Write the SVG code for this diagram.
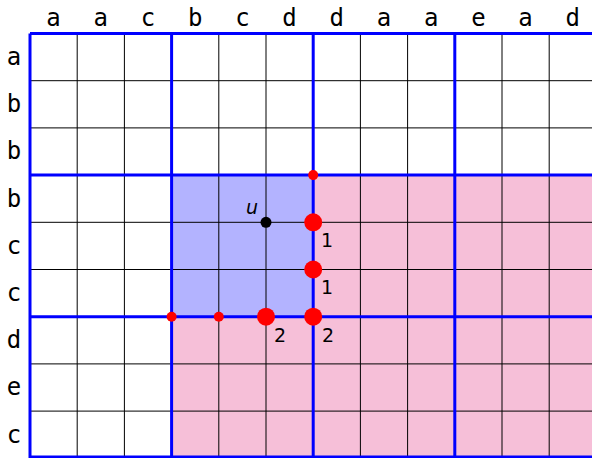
<svg xmlns="http://www.w3.org/2000/svg" width="592" height="458" viewBox="0 0 592 458">
<style>
.lbl{font-family:"DejaVu Sans Mono",monospace;font-size:24px;fill:#000;text-anchor:middle}
.num{font-family:"DejaVu Sans","Liberation Sans",sans-serif;font-size:19px;fill:#000;text-anchor:middle}
.thin{stroke:#000;stroke-width:1;fill:none}
.thick{stroke:#0000ff;stroke-width:3;fill:none}
.big{fill:#ff0000}
</style>
<rect width="592" height="458" fill="#fff"/>
<g id="regions">
<path d="M313.2 175.1H592V458H171.6V316.7H313.2Z" fill="#f6bfd8"/>
<rect x="171.6" y="175.1" width="141.6" height="141.6" fill="#b3b3ff"/>
</g>
<g id="grid" class="thin">
<path class="thin" d="M77.2 33.5V458M124.4 33.5V458M218.8 33.5V458M266 33.5V458M360.4 33.5V458M407.6 33.5V458M502 33.5V458M549.2 33.5V458M30 80.7H592M30 127.9H592M30 222.3H592M30 269.5H592M30 363.9H592M30 411.1H592"/>
<path class="thick" d="M30 33.5V458M171.6 33.5V458M313.2 33.5V458M454.8 33.5V458M30 33.5H592M30 175.1H592M30 316.7H592M30 457H592"/>
</g>
<g id="top-labels">
<text class="lbl" x="53.6" y="26">a</text>
<text class="lbl" x="100.8" y="26">a</text>
<text class="lbl" x="148" y="26">c</text>
<text class="lbl" x="195.2" y="26">b</text>
<text class="lbl" x="242.4" y="26">c</text>
<text class="lbl" x="289.6" y="26">d</text>
<text class="lbl" x="336.8" y="26">d</text>
<text class="lbl" x="384" y="26">a</text>
<text class="lbl" x="431.2" y="26">a</text>
<text class="lbl" x="478.4" y="26">e</text>
<text class="lbl" x="525.6" y="26">a</text>
<text class="lbl" x="572.8" y="26">d</text>
</g>
<g id="left-labels">
<text class="lbl" x="14" y="65">a</text>
<text class="lbl" x="14" y="112.2">b</text>
<text class="lbl" x="14" y="159.4">b</text>
<text class="lbl" x="14" y="206.6">b</text>
<text class="lbl" x="14" y="253.8">c</text>
<text class="lbl" x="14" y="301">c</text>
<text class="lbl" x="14" y="348.2">d</text>
<text class="lbl" x="14" y="395.4">e</text>
<text class="lbl" x="14" y="442.6">c</text>
</g>
<g id="points">
<circle cx="313.2" cy="175.1" r="5" class="big"/>
<circle cx="171.6" cy="316.7" r="5" class="big"/>
<circle cx="218.8" cy="316.7" r="5" class="big"/>
<circle cx="313.2" cy="222.3" r="9" class="big"/>
<circle cx="313.2" cy="269.5" r="9" class="big"/>
<circle cx="266" cy="316.7" r="9" class="big"/>
<circle cx="313.2" cy="316.7" r="9" class="big"/>
<circle cx="266" cy="222.3" r="5.5" fill="#000"/>
</g>
<g id="point-labels">
<text class="num" x="252" y="214" font-style="italic">u</text>
<text class="num" x="327" y="247">1</text>
<text class="num" x="327" y="294">1</text>
<text class="num" x="280" y="342">2</text>
<text class="num" x="328" y="342">2</text>
</g>
</svg>
